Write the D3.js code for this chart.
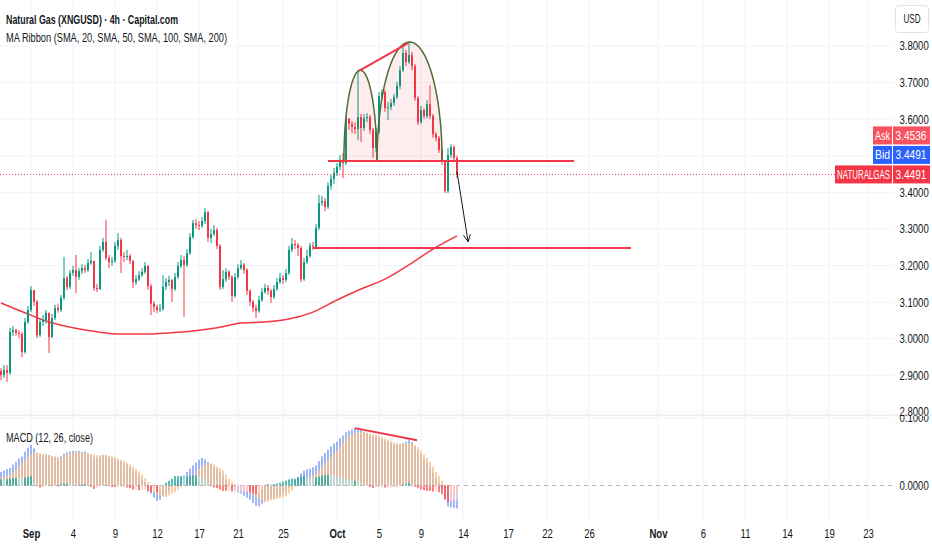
<!DOCTYPE html>
<html>
<head>
<meta charset="utf-8">
<script src="https://cdn.jsdelivr.net/npm/d3@7"></script>
<style>
  body { margin: 0; background: #fff; }
  svg { display: block; font-family: "Liberation Sans", Arial, sans-serif; }
</style>
</head>
<body>
<svg id="chart" width="932" height="550"></svg>
<script>
// ---- Natural Gas (XNGUSD) 4h candles ----
const firstOpen = 2.912;
const closes = [
  2.901,2.915,2.907,3.019,3.024,3.016,3.013,2.964,3.046,3.079,
  3.133,3.101,3.010,3.046,3.051,3.071,3.005,3.057,3.084,3.079,
  3.112,3.166,3.142,3.180,3.188,3.169,3.185,3.193,3.188,3.207,
  3.213,3.139,3.136,3.243,3.265,3.221,3.210,3.213,3.254,3.270,
  3.226,3.224,3.226,3.213,3.155,3.163,3.174,3.183,3.199,3.144,
  3.096,3.087,3.079,3.082,3.142,3.155,3.161,3.136,3.169,3.199,
  3.215,3.202,3.234,3.278,3.316,3.311,3.308,3.322,3.346,3.276,
  3.286,3.297,3.254,3.142,3.163,3.183,3.169,3.117,3.169,3.193,
  3.202,3.188,3.131,3.101,3.084,3.076,3.106,3.128,3.139,3.131,
  3.114,3.136,3.155,3.166,3.161,3.180,3.243,3.259,3.256,3.248,
  3.163,3.210,3.226,3.254,3.251,3.303,3.371,3.376,3.360,3.418,
  3.437,3.453,3.470,3.489,3.480,3.601,3.587,3.579,3.573,3.606,
  3.576,3.603,3.606,3.571,3.521,3.565,3.663,3.674,3.630,3.633,
  3.644,3.661,3.691,3.734,3.781,3.756,3.775,3.745,3.658,3.592,
  3.625,3.609,3.641,3.609,3.559,3.549,3.516,3.483,3.404,3.502,
  3.524,3.494,3.449
];
const highs = [
  2.920,2.928,2.928,3.030,3.035,3.027,3.024,3.019,3.057,3.090,
  3.144,3.133,3.106,3.057,3.065,3.079,3.071,3.068,3.093,3.096,
  3.120,3.224,3.172,3.188,3.199,3.229,3.193,3.204,3.202,3.218,
  3.237,3.213,3.150,3.254,3.276,3.325,3.229,3.224,3.265,3.289,
  3.276,3.237,3.243,3.232,3.215,3.174,3.185,3.193,3.210,3.202,
  3.150,3.103,3.093,3.096,3.174,3.166,3.172,3.163,3.180,3.210,
  3.229,3.226,3.245,3.289,3.325,3.327,3.322,3.333,3.357,3.349,
  3.300,3.311,3.303,3.259,3.188,3.193,3.188,3.174,3.180,3.204,
  3.215,3.207,3.193,3.136,3.106,3.093,3.117,3.139,3.150,3.147,
  3.136,3.147,3.166,3.180,3.174,3.191,3.254,3.276,3.270,3.262,
  3.254,3.221,3.243,3.262,3.265,3.314,3.393,3.390,3.385,3.428,
  3.448,3.467,3.480,3.502,3.508,3.609,3.603,3.595,3.592,3.734,
  3.614,3.614,3.617,3.612,3.576,3.576,3.674,3.682,3.680,3.647,
  3.655,3.669,3.702,3.745,3.797,3.789,3.808,3.784,3.751,3.663,
  3.636,3.630,3.652,3.693,3.614,3.565,3.554,3.521,3.489,3.521,
  3.532,3.529,3.500
];
const lows = [
  2.887,2.893,2.882,2.901,3.008,3.008,3.002,2.950,2.959,3.041,
  3.073,3.090,3.002,3.005,3.035,3.041,2.961,3.002,3.051,3.071,
  3.073,3.106,3.133,3.136,3.172,3.125,3.161,3.177,3.180,3.183,
  3.202,3.131,3.128,3.133,3.237,3.215,3.193,3.199,3.207,3.243,
  3.180,3.210,3.215,3.204,3.139,3.147,3.158,3.169,3.177,3.133,
  3.065,3.073,3.071,3.073,3.076,3.133,3.144,3.101,3.131,3.163,
  3.193,3.060,3.196,3.229,3.273,3.300,3.297,3.303,3.314,3.265,
  3.262,3.281,3.245,3.133,3.136,3.155,3.161,3.101,3.112,3.163,
  3.188,3.177,3.120,3.090,3.073,3.057,3.071,3.101,3.123,3.120,
  3.098,3.109,3.131,3.150,3.150,3.155,3.174,3.237,3.245,3.226,
  3.155,3.158,3.204,3.221,3.243,3.245,3.297,3.363,3.349,3.355,
  3.407,3.423,3.445,3.461,3.439,3.475,3.571,3.562,3.560,3.543,
  3.538,3.568,3.592,3.560,3.494,3.510,3.560,3.653,3.620,3.598,
  3.625,3.636,3.655,3.682,3.729,3.745,3.751,3.734,3.650,3.584,
  3.587,3.601,3.603,3.601,3.549,3.540,3.508,3.475,3.398,3.398,
  3.494,3.486,3.439
];

// SMA 200 (only ribbon line shown), sampled every 8 bars
const smaBars   = [0, 8, 16, 24, 32, 40, 48, 56, 64, 72, 80, 88, 96, 104, 112, 120, 128, 136, 144, 152];
const smaValues = [3.098,3.071,3.046,3.030,3.019,3.013,3.013,3.016,3.021,3.030,
                   3.043,3.046,3.054,3.073,3.106,3.136,3.163,3.202,3.245,3.281];

// MACD (12, 26, close): macd and signal per bar
const macdValues = [
  .020,.022,.024,.026,.031,.035,.040,.043,.050,.056,
  .060,.055,.048,.045,.045,.046,.045,.043,.042,.041,
  .043,.047,.049,.050,.051,.051,.051,.050,.050,.048,
  .045,.041,.041,.043,.045,.045,.043,.041,.040,.038,
  .036,.034,.031,.027,.022,.019,.014,.009,.005,-.004,
  -.012,-.018,-.023,-.021,-.016,-.013,-.008,-.002,.004,.008,
  .012,.015,.020,.025,.030,.034,.038,.041,.039,.035,
  .032,.028,.024,.020,.014,.008,.002,-.003,-.007,-.010,
  -.012,-.015,-.018,-.021,-.026,-.030,-.031,-.027,-.024,-.022,
  -.020,-.019,-.017,-.015,-.012,-.009,-.003,.002,.008,.013,
  .018,.022,.024,.025,.027,.030,.036,.043,.048,.053,
  .058,.062,.065,.070,.074,.079,.081,.083,.085,.084,
  .082,.080,.078,.075,.072,.072,.071,.069,.067,.065,
  .063,.061,.060,.061,.063,.065,.067,.064,.058,.053,
  .046,.039,.033,.027,.019,.012,.004,-.006,-.020,-.031,
  -.032,-.033,-.034
];
const signalValues = [
  .011,.013,.015,.016,.020,.024,.029,.033,.038,.043,
  .046,.048,.049,.048,.047,.046,.045,.044,.043,.042,
  .041,.044,.046,.048,.049,.050,.050,.049,.048,.048,
  .047,.046,.045,.045,.045,.045,.044,.043,.042,.040,
  .038,.036,.034,.031,.028,.025,.021,.016,.011,.005,
  -.002,-.008,-.013,-.015,-.016,-.017,-.015,-.012,-.010,-.006,
  -.002,.003,.007,.011,.015,.019,.024,.029,.031,.033,
  .033,.031,.028,.026,.022,.016,.010,.006,.002,-.001,
  -.003,-.006,-.009,-.011,-.014,-.017,-.020,-.022,-.024,-.024,
  -.022,-.021,-.020,-.019,-.018,-.016,-.012,-.008,-.002,.001,
  .005,.008,.011,.013,.015,.018,.023,.028,.033,.037,
  .043,.048,.052,.058,.064,.070,.073,.076,.078,.079,
  .079,.079,.078,.077,.076,.075,.074,.072,.070,.068,
  .066,.064,.063,.062,.062,.063,.063,.062,.060,.057,
  .052,.046,.041,.035,.028,.020,.014,.007,.001,-.006,
  -.009,-.011,-.012
];

// Axes
const tickBars   = [10, 24, 38, 52, 66, 79, 94, 112, 126, 140, 154, 169, 182, 196, 219, 234, 248, 262, 276, 289];
const tickLabels = ["Sep","4","9","12","17","21","25","Oct","5","9","14","17","22","26","Nov","6","11","14","19","23"];
const monthLabels = ["Sep", "Oct", "Nov"];
const priceTicks = [2.8, 2.9, 3.0, 3.1, 3.2, 3.3, 3.4, 3.5, 3.6, 3.7, 3.8];
const priceLabelTicks = [2.8, 2.9, 3.0, 3.1, 3.2, 3.3, 3.4, 3.6, 3.7, 3.8]; // 3.5 sits under the quote labels
const macdTicks  = [0, 0.1];

// Quote labels on the price scale
const quoteNames  = ["Ask", "Bid", "NATURALGAS"];
const quoteValues = [3.4536, 3.4491, 3.4491];
const lastPrice   = 3.4491;

// Drawings (bar index, price)
const necklineLevel = 3.486, necklineFrom = 109, necklineTo = 191;
const supportLevel  = 3.248, supportFrom  = 104, supportTo  = 210;
const topTrend  = [[119.3, 3.732], [135.7, 3.808]];
const arcs = [
  { center: 119.8, halfWidth: 5.5,  base: 3.486, top: 3.734 },
  { center: 136.2, halfWidth: 10.85, base: 3.486, top: 3.811 }
];
const arrowPath = [[152, 3.456], [155.7, 3.265]];
const macdTrend = [[118, 0.085], [138.7, 0.067]];

// ---- layout ----
const plotRight = 893;
const paneSplit = 415;
const macdBottom = 520;
const textColor = "#131722";
const gridColor = "#f0f3fa";
const upColor = "#089981", downColor = "#f23645";
const narrow = 0.8;   // the reference font is condensed

const svg = d3.select("#chart");

const x  = d3.scaleLinear().domain([0, 297]).range([1, 892]);
const y  = d3.scaleLinear().domain([2.8, 3.8]).range([412, 46]);
const ym = d3.scaleLinear().domain([0, 0.1]).range([485.5, 418]);

svg.append("defs").append("clipPath").attr("id", "macdClip")
  .append("rect").attr("x", 0).attr("y", paneSplit + 1).attr("width", 932).attr("height", macdBottom - paneSplit);

// grid
const grid = svg.append("g");
grid.selectAll("line.v").data(tickBars).join("line")
  .attr("x1", d => x(d)).attr("x2", d => x(d))
  .attr("y1", 0).attr("y2", macdBottom)
  .attr("stroke", gridColor).attr("stroke-width", 1);
grid.selectAll("line.h").data(priceTicks).join("line")
  .attr("x1", 0).attr("x2", plotRight)
  .attr("y1", d => y(d)).attr("y2", d => y(d))
  .attr("stroke", gridColor);
grid.append("line")
  .attr("x1", 0).attr("x2", plotRight)
  .attr("y1", ym(0.1)).attr("y2", ym(0.1))
  .attr("stroke", gridColor);
svg.append("line")
  .attr("x1", 0).attr("x2", 932)
  .attr("y1", paneSplit).attr("y2", paneSplit)
  .attr("stroke", "#e0e3eb");

// SMA 200
svg.append("path")
  .datum(smaBars.map((b, k) => [b, smaValues[k]]))
  .attr("fill", "none").attr("stroke", "#f23645").attr("stroke-width", 1.5)
  .attr("d", d3.line().x(d => x(d[0])).y(d => y(d[1])).curve(d3.curveMonotoneX));

// candles
const candles = closes.map((c, i) => ({
  i, o: i ? closes[i - 1] : firstOpen, h: highs[i], l: lows[i], c
}));
const cg = svg.append("g");
cg.selectAll("rect.wick").data(candles).join("rect")
  .attr("x", d => x(d.i) - 0.5).attr("width", 1)
  .attr("y", d => y(Math.max(d.h, d.o, d.c)))
  .attr("height", d => y(Math.min(d.l, d.o, d.c)) - y(Math.max(d.h, d.o, d.c)))
  .attr("fill", d => d.c >= d.o ? upColor : downColor);
cg.selectAll("rect.body").data(candles).join("rect")
  .attr("x", d => x(d.i) - 1).attr("width", 2)
  .attr("y", d => y(Math.max(d.o, d.c)))
  .attr("height", d => Math.max(1, Math.abs(y(d.o) - y(d.c))))
  .attr("fill", d => d.c >= d.o ? upColor : downColor);

// last price dotted line
svg.append("line")
  .attr("x1", 0).attr("x2", plotRight)
  .attr("y1", y(lastPrice)).attr("y2", y(lastPrice))
  .attr("stroke", "#f23645").attr("stroke-width", 1).attr("stroke-dasharray", "1,2");

// arcs (double top)
const arcLine = d3.line().x(d => d[0]).y(d => d[1]);
arcs.forEach(a => {
  const pts = d3.range(0, 181, 3).map(deg => {
    const t = deg * Math.PI / 180;
    return [x(a.center - a.halfWidth * Math.cos(t)), y(a.base + (a.top - a.base) * Math.sin(t))];
  });
  svg.append("path").datum(pts)
    .attr("d", arcLine(pts) + "Z")
    .attr("fill", "rgba(242,54,69,0.09)").attr("stroke", "none");
  svg.append("path").datum(pts)
    .attr("d", arcLine)
    .attr("fill", "none").attr("stroke", "#4e6e35").attr("stroke-width", 1.5);
});

// horizontal levels
svg.append("line")
  .attr("x1", x(necklineFrom)).attr("x2", x(necklineTo))
  .attr("y1", y(necklineLevel)).attr("y2", y(necklineLevel))
  .attr("stroke", "#f23645").attr("stroke-width", 2);
svg.append("line")
  .attr("x1", x(supportFrom)).attr("x2", x(supportTo))
  .attr("y1", y(supportLevel)).attr("y2", y(supportLevel))
  .attr("stroke", "#f23645").attr("stroke-width", 2);

// top trend line
svg.append("line")
  .attr("x1", x(topTrend[0][0])).attr("y1", y(topTrend[0][1]))
  .attr("x2", x(topTrend[1][0])).attr("y2", y(topTrend[1][1]))
  .attr("stroke", "#f23645").attr("stroke-width", 2);

// projection arrow
const ax1 = x(arrowPath[0][0]), ay1 = y(arrowPath[0][1]);
const ax2 = x(arrowPath[1][0]), ay2 = y(arrowPath[1][1]);
const ang = Math.atan2(ay2 - ay1, ax2 - ax1);
svg.append("line")
  .attr("x1", ax1).attr("y1", ay1).attr("x2", ax2).attr("y2", ay2)
  .attr("stroke", "#131722").attr("stroke-width", 1);
const headLen = 8;
svg.append("path")
  .attr("d", `M${ax2 - headLen * Math.cos(ang - 0.45)},${ay2 - headLen * Math.sin(ang - 0.45)}L${ax2},${ay2}L${ax2 - headLen * Math.cos(ang + 0.45)},${ay2 - headLen * Math.sin(ang + 0.45)}`)
  .attr("fill", "none").attr("stroke", "#131722").attr("stroke-width", 1);

// ---- MACD pane ----
const mg = svg.append("g").attr("clip-path", "url(#macdClip)");
mg.append("line")
  .attr("x1", 0).attr("x2", plotRight)
  .attr("y1", ym(0)).attr("y2", ym(0))
  .attr("stroke", "#b2b5be").attr("stroke-dasharray", "4,4");

const colW = 1.5;
mg.selectAll("rect.macd").data(macdValues).join("rect")
  .attr("x", (d, i) => x(i) - colW / 2).attr("width", colW)
  .attr("y", d => Math.min(ym(d), ym(0))).attr("height", d => Math.abs(ym(d) - ym(0)))
  .attr("fill", "#7f9ff2");
mg.selectAll("rect.sig").data(signalValues).join("rect")
  .attr("x", (d, i) => x(i) - colW / 2).attr("width", colW)
  .attr("y", d => Math.min(ym(d), ym(0))).attr("height", d => Math.abs(ym(d) - ym(0)))
  .attr("fill", "#f8c08a");
const hist = macdValues.map((m, i) => m - signalValues[i]);
mg.selectAll("rect.hist").data(hist).join("rect")
  .attr("x", (d, i) => x(i) - colW / 2).attr("width", colW)
  .attr("y", d => Math.min(ym(d), ym(0))).attr("height", d => Math.abs(ym(d) - ym(0)))
  .attr("fill", (d, i) => {
    const prev = i ? hist[i - 1] : d;
    if (d >= 0) return d >= prev ? "#26a69a" : "#b2dfdb";
    return d >= prev ? "#ffcdd2" : "#ff5252";
  });
mg.append("line")
  .attr("x1", x(macdTrend[0][0])).attr("y1", ym(macdTrend[0][1]))
  .attr("x2", x(macdTrend[1][0])).attr("y2", ym(macdTrend[1][1]))
  .attr("stroke", "#f23645").attr("stroke-width", 2);

// ---- axes ----
const priceAxis = svg.append("g")
  .attr("transform", `translate(${897},0)`)
  .call(d3.axisRight(y).tickValues(priceLabelTicks).tickFormat(d3.format(".4f")).tickSize(0).tickPadding(3));
priceAxis.select(".domain").remove();
priceAxis.selectAll("text").attr("fill", textColor).style("font-size", "12px").style("font-family", null)
  .attr("transform", `scale(${narrow},1)`);

const macdAxis = svg.append("g")
  .attr("clip-path", "url(#macdClip)")
  .append("g")
  .attr("transform", `translate(${897},0)`)
  .call(d3.axisRight(ym).tickValues(macdTicks).tickFormat(d3.format(".4f")).tickSize(0).tickPadding(3));
macdAxis.select(".domain").remove();
macdAxis.selectAll("text").attr("fill", textColor).style("font-size", "12px").style("font-family", null)
  .attr("transform", `scale(${narrow},1)`);

const timeAxis = svg.append("g")
  .attr("transform", `translate(0,${macdBottom})`)
  .call(d3.axisBottom(x).tickValues(tickBars).tickFormat((d, k) => tickLabels[k]).tickSize(0).tickPadding(9));
timeAxis.select(".domain").remove();
timeAxis.selectAll("text")
  .attr("fill", textColor).style("font-size", "12px").style("font-family", null)
  .attr("transform", `scale(${narrow},1)`)
  .style("font-weight", (d, k) => monthLabels.includes(tickLabels[k]) ? "bold" : "normal");

// USD box
svg.append("rect").attr("x", 895.5).attr("y", 5.5).attr("width", 33).attr("height", 27).attr("rx", 3)
  .attr("fill", "#fff").attr("stroke", "#e0e3eb");
svg.append("text").attr("x", 912).attr("y", 23).attr("text-anchor", "middle")
  .attr("fill", textColor).style("font-size", "12px")
  .attr("textLength", 17).attr("lengthAdjust", "spacingAndGlyphs").text("USD");

// quote labels
const quoteFill = ["#f7525f", "#2962ff", "#f23645"];
const nameWidths = [19, 19, 57];
quoteNames.forEach((name, k) => {
  const cy = y(lastPrice) - (2 - k) * 19.5;
  const g = svg.append("g");
  g.append("rect").attr("x", 892 - nameWidths[k]).attr("y", cy - 9).attr("width", nameWidths[k]).attr("height", 18)
    .attr("fill", quoteFill[k]);
  g.append("rect").attr("x", 893).attr("y", cy - 9).attr("width", 37).attr("height", 18)
    .attr("fill", quoteFill[k]);
  g.append("text").attr("x", 894 - nameWidths[k]).attr("y", cy + 4.5)
    .attr("fill", "#fff").style("font-size", "12px")
    .attr("textLength", nameWidths[k] - 4).attr("lengthAdjust", "spacingAndGlyphs").text(name);
  g.append("text").attr("x", 895.5).attr("y", cy + 4.5)
    .attr("fill", "#fff").style("font-size", "12px")
    .attr("textLength", 31).attr("lengthAdjust", "spacingAndGlyphs").text(quoteValues[k].toFixed(4));
});

// legends
svg.append("text").attr("x", 6).attr("y", 24).attr("fill", textColor)
  .style("font-size", "13px").style("font-weight", "600")
  .attr("textLength", 172).attr("lengthAdjust", "spacingAndGlyphs")
  .text("Natural Gas (XNGUSD) · 4h · Capital.com");
svg.append("text").attr("x", 6).attr("y", 42).attr("fill", textColor)
  .style("font-size", "13px")
  .attr("textLength", 221).attr("lengthAdjust", "spacingAndGlyphs")
  .text("MA Ribbon (SMA, 20, SMA, 50, SMA, 100, SMA, 200)");
svg.append("text").attr("x", 6).attr("y", 442).attr("fill", textColor)
  .style("font-size", "12.5px")
  .attr("textLength", 87).attr("lengthAdjust", "spacingAndGlyphs")
  .text("MACD (12, 26, close)");
</script>
</body>
</html>
